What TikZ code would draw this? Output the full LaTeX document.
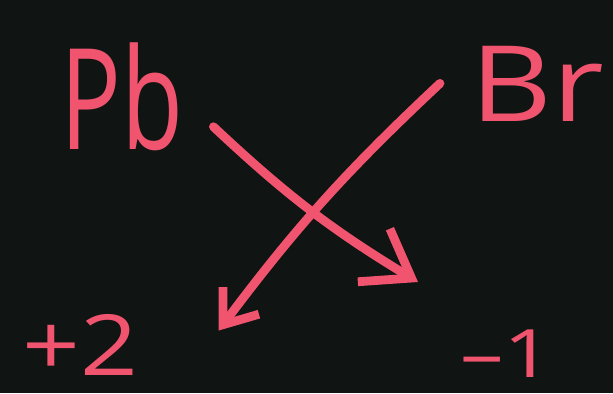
\documentclass[tikz,border=0pt]{standalone}
\usepackage{fontspec}
\setmainfont{Open Sans}
\usepackage{xcolor}
\usetikzlibrary{arrows.meta}
\definecolor{CKBoard}{HTML}{101412}
\definecolor{CKPink}{HTML}{F0546F}

\begin{document}
\begin{tikzpicture}[x=0.02cm,y=0.02cm,
  chalk/.style={text=CKPink,inner sep=0pt,anchor=base west,transform shape},
  stroke/.style={draw=CKPink,line width=5pt,line cap=round,line join=round}]
\path[use as bounding box] (0,0) rectangle (613,393);
\fill[CKBoard] (0,0) rectangle (613,393);
\node[chalk,xscale=0.72] (Pb) at (60,243) {\fontsize{80}{80}\selectfont Pb};
\node[chalk,xscale=1.2] (Br) at (470,272) {\fontsize{60}{60}\selectfont Br};
\node[chalk,xscale=1.2] (plus) at (22,18) {\fontsize{48}{48}\selectfont +2};
\node[chalk,xscale=1.3] (minus) at (460,16) {\fontsize{38}{38}\selectfont --1};
\draw[stroke,-{Straight Barb[length=0.88cm,width=1.24cm]}]
  ([xshift=0.6cm,yshift=0.5cm]Pb.south east) to[bend right=6]
  ([xshift=-0.84cm,yshift=0.94cm]minus.north west);
\draw[stroke,-{Straight Barb[length=0.6cm,width=0.9cm]}]
  ([xshift=-0.6cm]Br.west) to[bend right=5]
  ([xshift=1.6cm,yshift=-0.34cm]plus.north east);
\end{tikzpicture}
\end{document}
